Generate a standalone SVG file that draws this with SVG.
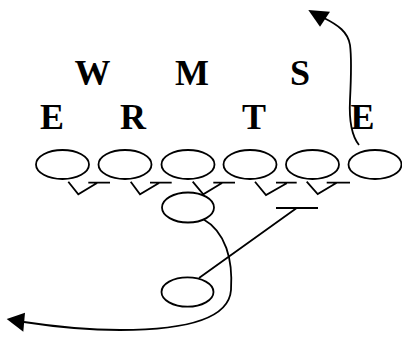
<svg xmlns="http://www.w3.org/2000/svg" width="402" height="339" viewBox="0 0 402 339">
<style>
.o{fill:#fff;stroke:#000;stroke-width:1.8}
.l{fill:none;stroke:#000;stroke-width:1.8;stroke-linejoin:miter}
.t{font-family:"Liberation Serif","Times New Roman",serif;font-weight:bold;font-size:36px;fill:#000;text-anchor:middle}
.a{fill:#000}
</style>
<g id="labels">
<text class="t" x="92.5" y="84.5">W</text>
<text class="t" x="192" y="84.5">M</text>
<text class="t" x="300" y="84.5">S</text>
<text class="t" x="52" y="128.5">E</text>
<text class="t" x="133" y="128.5">R</text>
<text class="t" x="254" y="128.5">T</text>
<text class="t" x="362.5" y="128.5">E</text>
</g>
<g id="connectors">
<path class="l" d="M68.3,181.7 L78.3,194.3 L97,183 M88.3,182.7 H110"/>
<path class="l" d="M130.7,181.7 L140,194.3 L159,183 M150,182.7 H171.7"/>
<path class="l" d="M192.7,181.7 L203.3,194.3 L222,183 M213.3,182.7 H235"/>
<path class="l" d="M255,181.7 L266,195 L286.7,183.3 M276,182.7 H296.7"/>
<path class="l" d="M306.7,181.7 L317.7,194 L336.7,182.7 M326.7,182.7 H350"/>
<path class="l" d="M276,208 H318 M296.7,208 L199,278"/>
<path class="l" d="M203,219 C226,232 233,260 231,290 C229,318 190,330 120,330 C80,330 50,326 24,322"/>
<polygon class="a" points="6.7,319 25,312.7 23.3,331.7"/>
<path class="l" d="M359,145 C351,135 349,120 350,100 C351,80 352,60 350,45 C348,32 338,25 324,18"/>
<polygon class="a" points="308.3,10 330,11.7 320,26.7"/>
</g>
<g id="node-1"><ellipse class="o" cx="62.5" cy="164.5" rx="26.5" ry="14.5"/></g>
<g id="node-2"><ellipse class="o" cx="125" cy="164.5" rx="26.5" ry="14.5"/></g>
<g id="node-3"><ellipse class="o" cx="188" cy="164.5" rx="26.5" ry="14.5"/></g>
<g id="node-4"><ellipse class="o" cx="250" cy="164.5" rx="26.5" ry="14.5"/></g>
<g id="node-5"><ellipse class="o" cx="312.5" cy="164.5" rx="26.5" ry="14.5"/></g>
<g id="node-6"><ellipse class="o" cx="375" cy="164.5" rx="26.5" ry="14.5"/></g>
<g id="node-7"><ellipse class="o" cx="188" cy="207.5" rx="26" ry="15"/></g>
<g id="node-8"><ellipse class="o" cx="187.5" cy="292" rx="26" ry="14.7"/></g>
</svg>
